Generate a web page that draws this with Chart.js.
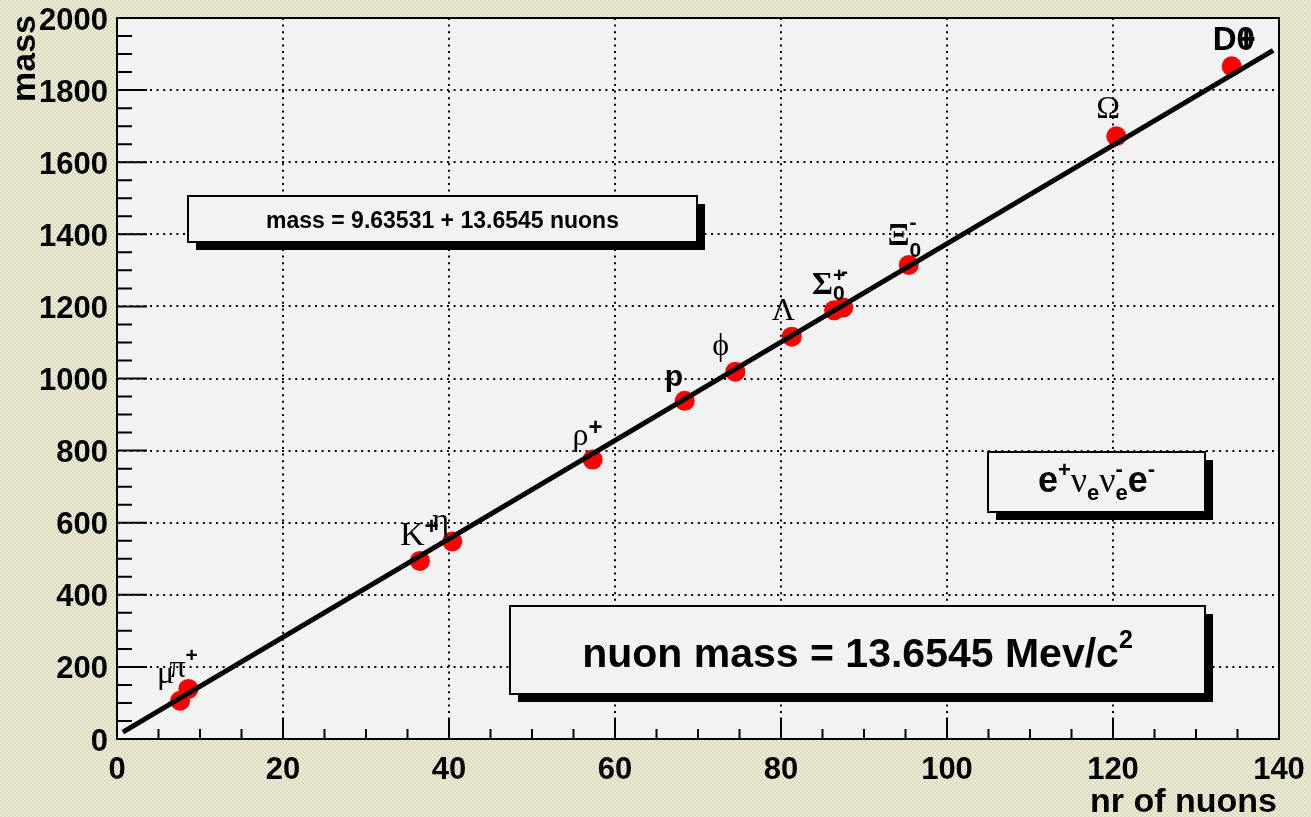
<!DOCTYPE html>
<html>
<head>
<meta charset="utf-8">
<script src="https://cdn.jsdelivr.net/npm/chart.js@4.4.1/dist/chart.umd.min.js"></script>
<style>
  html, body { margin: 0; padding: 0; background: #e2e2c8; }
  canvas { display: block; }
</style>
</head>
<body>
<canvas id="nuonGraph" width="1311" height="817"></canvas>
<script>
// values
var particles = ['μ', 'π+', 'K+', 'η', 'ρ+', 'p', 'ϕ', 'Λ', 'Σ+', 'Σ-', 'Ξ', 'Ω', 'D'];
var nuons = [7.6, 8.6, 36.5, 40.4, 57.3, 68.4, 74.5, 81.3, 86.4, 87.5, 95.4, 120.4, 134.3];
var masses = [106, 139, 494, 548, 775, 938, 1019, 1116, 1189, 1197, 1315, 1672, 1866];
// end points of the drawn fit line
var fitNuons = [0.7, 139.3];
var fitMasses = [19, 1910];
var xTickStep = 20, xMinorStep = 5;
var yTickStep = 200, yMinorStep = 50;

var SANS = '"Liberation Sans", Arial, Helvetica, sans-serif';
var SERIF = '"Liberation Serif", "Times New Roman", serif';
function fb(s) { return 'bold ' + s + 'px ' + SANS; }
function fs(s) { return s + 'px ' + SERIF; }

// draw a run of text pieces; "stay" pieces do not move the pen
function drawRich(ctx, segs, x, y, align) {
    var w = 0;
    segs.forEach(function (s) {
        ctx.font = s.f;
        s.w = ctx.measureText(s.t).width;
        if (!s.stay) w += s.w;
    });
    var cx = align === 'center' ? x - w / 2 : x;
    segs.forEach(function (s) {
        ctx.font = s.f;
        ctx.fillText(s.t, cx + (s.dx || 0), y + (s.dy || 0));
        if (!s.stay) cx += s.w;
    });
}

// labels next to the points (offset in px from the point)
var pointLabels = [
    { i: 0, dx: -23, dy: -18, segs: [{ t: 'μ', f: fs(32) }] },
    { i: 1, dx: -19, dy: -12, segs: [{ t: 'π', f: fs(32) }, { t: '+', f: fb(21), dy: -15 }] },
    { i: 2, dx: -20, dy: -16, segs: [{ t: 'K', f: fs(34) }, { t: '+', f: fb(24), dy: -11 }] },
    { i: 3, dx: -20, dy: -11, segs: [{ t: 'η', f: fs(32) }] },
    { i: 4, dx: -20, dy: -15, segs: [{ t: 'ρ', f: fs(32) }, { t: '+', f: fb(24), dy: -10 }] },
    { i: 5, dx: -20, dy: -15, segs: [{ t: 'p', f: fb(30) }] },
    { i: 6, dx: -23, dy: -17, segs: [{ t: 'ϕ', f: fs(32) }] },
    { i: 7, dx: -20, dy: -17, segs: [{ t: 'Λ', f: fs(32) }] },
    { i: 8, dx: -22, dy: -16, segs: [{ t: 'Σ', f: 'bold ' + fs(32) }, { t: '0', f: fb(21), dy: 6, stay: true },
        { t: '+', f: fb(21), dy: -12, stay: true }, { t: '-', f: fb(21), dx: 8, dy: -16 }] },
    { i: 10, dx: -21, dy: -20, segs: [{ t: 'Ξ', f: 'bold ' + fs(32) }, { t: '0', f: fb(21), dy: 12, stay: true },
        { t: '-', f: fb(21), dy: -16 }] },
    { i: 11, dx: -20, dy: -18, segs: [{ t: 'Ω', f: fs(32) }] },
    { i: 12, dx: -19, dy: -16, segs: [{ t: 'D', f: fb(33) }, { t: '0', f: fb(33), stay: true }, { t: '+', f: fb(33) }] }
];

var boxes = [
    { x: 188, y: 196, w: 509, h: 46, by: 228, segs: [{ t: 'mass = 9.63531 + 13.6545 nuons', f: fb(23) }] },
    { x: 988, y: 452, w: 217, h: 60, by: 492, segs: [
        { t: 'e', f: fb(36) }, { t: '+', f: fb(22), dy: -15 }, { t: 'ν', f: fs(36) }, { t: 'e', f: fb(22), dy: 8 },
        { t: 'ν', f: fs(36) }, { t: '-', f: fb(22), dy: -16, stay: true }, { t: 'e', f: fb(22), dy: 8 },
        { t: 'e', f: fb(36) }, { t: '-', f: fb(22), dy: -16 }] },
    { x: 510, y: 606, w: 695, h: 88, by: 667, segs: [{ t: 'nuon mass = 13.6545 Mev/c', f: fb(41) }, { t: '2', f: fb(25), dy: -19 }] }
];

var pat = document.createElement('canvas');
pat.width = 4; pat.height = 4;
var pc = pat.getContext('2d');
pc.fillStyle = '#eeedc8'; pc.fillRect(0, 0, 4, 4);
pc.fillStyle = '#d9d9ce'; pc.fillRect(0, 0, 2, 2); pc.fillRect(2, 2, 2, 2);

var rootStyle = {
    id: 'rootStyle',
    beforeDraw: function (chart) {
        var ctx = chart.ctx, a = chart.chartArea;
        ctx.save();
        ctx.fillStyle = ctx.createPattern(pat, 'repeat');
        ctx.fillRect(0, 0, chart.width, chart.height);
        ctx.fillStyle = '#f2f2f2';
        ctx.fillRect(a.left, a.top, a.right - a.left, a.bottom - a.top);
        ctx.restore();
    },
    afterDatasetsDraw: function (chart) {
        var ctx = chart.ctx, a = chart.chartArea;
        var xs = chart.scales.x, ys = chart.scales.y;
        ctx.save();
        ctx.strokeStyle = '#000';
        ctx.lineWidth = 2;
        ctx.beginPath();
        for (var v = xs.min; v <= xs.max; v += xMinorStep) {
            var px = xs.getPixelForValue(v);
            var len = v % xTickStep === 0 ? 20 : 10;
            ctx.moveTo(px, a.bottom); ctx.lineTo(px, a.bottom - len);
        }
        for (var u = ys.min; u <= ys.max; u += yMinorStep) {
            var py = ys.getPixelForValue(u);
            var l2 = u % yTickStep === 0 ? 30 : 15;
            ctx.moveTo(a.left, py); ctx.lineTo(a.left + l2, py);
        }
        ctx.stroke();
        ctx.strokeRect(a.left, a.top, a.right - a.left, a.bottom - a.top);

        // point labels
        ctx.fillStyle = '#000';
        ctx.textAlign = 'left';
        ctx.textBaseline = 'alphabetic';
        pointLabels.forEach(function (lb) {
            var px = xs.getPixelForValue(nuons[lb.i]);
            var py = ys.getPixelForValue(masses[lb.i]);
            drawRich(ctx, lb.segs, px + lb.dx, py + lb.dy, 'left');
        });

        // text boxes with shadow
        boxes.forEach(function (b) {
            ctx.fillStyle = '#000';
            ctx.fillRect(b.x + 8, b.y + 8, b.w, b.h);
            ctx.fillStyle = '#f2f2f2';
            ctx.fillRect(b.x, b.y, b.w, b.h);
            ctx.lineWidth = 2;
            ctx.strokeRect(b.x, b.y, b.w, b.h);
            ctx.fillStyle = '#000';
            drawRich(ctx, b.segs, b.x + b.w / 2, b.by, 'center');
        });

        // axis titles
        ctx.font = fb(34);
        ctx.textAlign = 'right';
        ctx.fillText('nr of nuons', a.right - 2, 812);
        ctx.translate(35, 102);
        ctx.rotate(-Math.PI / 2);
        ctx.textAlign = 'left';
        ctx.fillText('mass', 0, 0);
        ctx.restore();
    }
};

var pointData = nuons.map(function (n, k) { return { x: n, y: masses[k] }; });
var fitData = fitNuons.map(function (n, k) { return { x: n, y: fitMasses[k] }; });

var ctx = document.getElementById('nuonGraph').getContext('2d');
var graph = new Chart(ctx, {
    type: 'scatter',
    data: {
        datasets: [{
            label: 'fit',
            data: fitData,
            showLine: true,
            borderColor: '#000',
            borderWidth: 5,
            pointRadius: 0
        }, {
            label: 'particles',
            data: pointData,
            backgroundColor: '#ff0000',
            borderWidth: 0,
            pointRadius: 10
        }]
    },
    options: {
        responsive: false,
        animation: false,
        devicePixelRatio: 1,
        layout: { padding: { top: 18, right: 32, left: 0, bottom: 0 } },
        plugins: { legend: { display: false }, tooltip: { enabled: false } },
        scales: {
            x: {
                type: 'linear', min: 0, max: 140,
                afterFit: function (s) { s.height = 78; s.paddingLeft = 0; s.paddingRight = 0; },
                ticks: { stepSize: xTickStep, color: '#000', font: { family: SANS, size: 31, weight: 'bold' },
                    padding: 13, maxRotation: 0, callback: function (v) { return String(v); } },
                grid: { color: '#000', lineWidth: 2, drawTicks: false },
                border: { display: false, dash: [2, 4.6] }
            },
            y: {
                type: 'linear', min: 0, max: 2000,
                afterFit: function (s) { s.width = 117; s.paddingTop = 0; s.paddingBottom = 0; },
                ticks: { stepSize: yTickStep, color: '#000', font: { family: SANS, size: 31, weight: 'bold' },
                    padding: 9, labelOffset: 3, callback: function (v) { return String(v); } },
                grid: { color: '#000', lineWidth: 2, drawTicks: false },
                border: { display: false, dash: [2, 4.6] }
            }
        }
    },
    plugins: [rootStyle]
});
</script>
</body>
</html>
